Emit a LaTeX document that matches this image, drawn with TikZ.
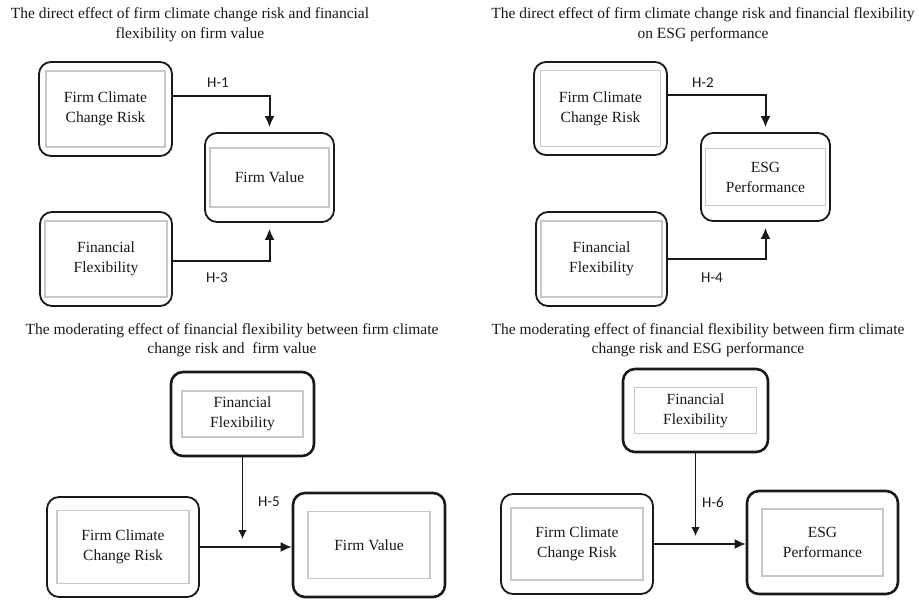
\documentclass[tikz,border=0pt]{standalone}
\usepackage{fontspec}
\setmainfont{Liberation Serif}
\newfontfamily\hypfont{Carlito}
\usetikzlibrary{arrows.meta,calc}
\definecolor{framegray}{RGB}{200,200,200}
\definecolor{ink}{RGB}{25,25,25}
\newcommand{\framedpair}[8]{
  \draw #2 node[outer,minimum width=#3,minimum height=#4,#8] (#1) {};
  \draw #2 node[inner,minimum width=#5,minimum height=#6] (#1in) {#7};
}
\tikzstyle{outer}=[draw=ink, rounded corners=12pt, line width=1.8pt, inner sep=0pt]
\tikzstyle{inner}=[draw=framegray, line width=1.1pt, inner sep=0pt, align=center, text=ink, font=\fontsize{15.5}{20}\selectfont]
\tikzstyle{heavy}=[line width=2.6pt]
\tikzstyle{title}=[align=center, text=ink, font=\fontsize{15.5}{19.5}\selectfont]
\tikzstyle{hyp}=[text=ink, font=\hypfont\fontsize{15}{18}\selectfont]
\tikzset{link/.style={-{Latex[length=11pt,width=10pt]}, line width=2pt, draw=ink}}
\tikzset{y=-1pt}
\tikzset{x=1pt}

\begin{document}
\begin{tikzpicture}
  \useasboundingbox (0,0) rectangle (919,600);

  %% Direct effect on firm value
  \draw (190,24.5) node[title] (titleA) {The direct effect of firm climate change risk and financial\\flexibility on firm value};
  \framedpair{FCCRa}{(105.5,109)}{133pt}{94pt}{119pt}{76pt}{Firm Climate\\Change Risk}{}
  \framedpair{FVa}{(269.5,177.5)}{129pt}{89pt}{119pt}{59pt}{Firm Value}{}
  \framedpair{FFa}{(106,259)}{132pt}{94pt}{122pt}{76pt}{Financial\\Flexibility}{}
  \draw[link] ([yshift=13pt]FCCRa.east) -| ([yshift=5pt]FVa.north);
  \draw[link] ([yshift=-2pt]FFa.east) -| ([yshift=-6pt]FVa.south);
  \draw (218,83) node[hyp] (H1) {H-1};
  \draw (217,278) node[hyp] (H3) {H-3};

  %% Direct effect on ESG performance
  \draw (703,24.5) node[title] (titleB) {The direct effect of firm climate change risk and financial flexibility\\on ESG performance};
  \framedpair{FCCRb}{(600.5,108.5)}{133pt}{93pt}{120pt}{76pt}{Firm Climate\\Change Risk}{}
  \framedpair{ESGb}{(765.5,177)}{129pt}{88pt}{120pt}{57pt}{ESG\\Performance}{}
  \framedpair{FFb}{(601.5,259)}{131pt}{94pt}{121pt}{76pt}{Financial\\Flexibility}{}
  \draw[link] ([yshift=13.5pt]FCCRb.east) -| ([yshift=5pt]ESGb.north);
  \draw[link] (FFb.east) -| ([yshift=-6pt]ESGb.south);
  \draw (703,83) node[hyp] (H2) {H-2};
  \draw (712,278) node[hyp] (H4) {H-4};

  %% Moderating effect, firm value
  \draw (232,340) node[title] (titleC) {The moderating effect of financial flexibility between firm climate\\change risk and\ \ firm value};
  \framedpair{FFc}{(242.5,414)}{143pt}{84pt}{121pt}{46pt}{Financial\\Flexibility}{heavy}
  \framedpair{FCCRc}{(123,547)}{152pt}{100pt}{132pt}{73pt}{Firm Climate\\Change Risk}{}
  \framedpair{FVc}{(369,545)}{152pt}{104pt}{122pt}{67pt}{Firm Value}{heavy}
  \draw[link,line width=1.7pt] (FCCRc.east) -- (FCCRc.east -| FVc.west);
  \draw[link,line width=1.3pt,shorten >=8pt,-{Latex[length=9pt,width=8.5pt]}] (FFc.south) -- (FFc.south |- FCCRc.east);
  \draw (269,502) node[hyp] (H5) {H-5};

  %% Moderating effect, ESG performance
  \draw (698,340) node[title] (titleD) {The moderating effect of financial flexibility between firm climate\\change risk and ESG performance};
  \framedpair{FFd}{(695.5,410.5)}{145pt}{83pt}{122pt}{46pt}{Financial\\Flexibility}{heavy}
  \framedpair{FCCRd}{(577,544)}{152pt}{100pt}{132pt}{72pt}{Firm Climate\\Change Risk}{}
  \framedpair{ESGd}{(822.5,542.5)}{151pt}{103pt}{121pt}{67pt}{ESG\\Performance}{heavy}
  \draw[link,line width=1.7pt] (FCCRd.east) -- (FCCRd.east -| ESGd.west);
  \draw[link,line width=1.3pt,shorten >=8pt,-{Latex[length=9pt,width=8.5pt]}] (FFd.south) -- (FFd.south |- FCCRd.east);
  \draw (713,502) node[hyp] (H6) {H-6};
\end{tikzpicture}
\end{document}
